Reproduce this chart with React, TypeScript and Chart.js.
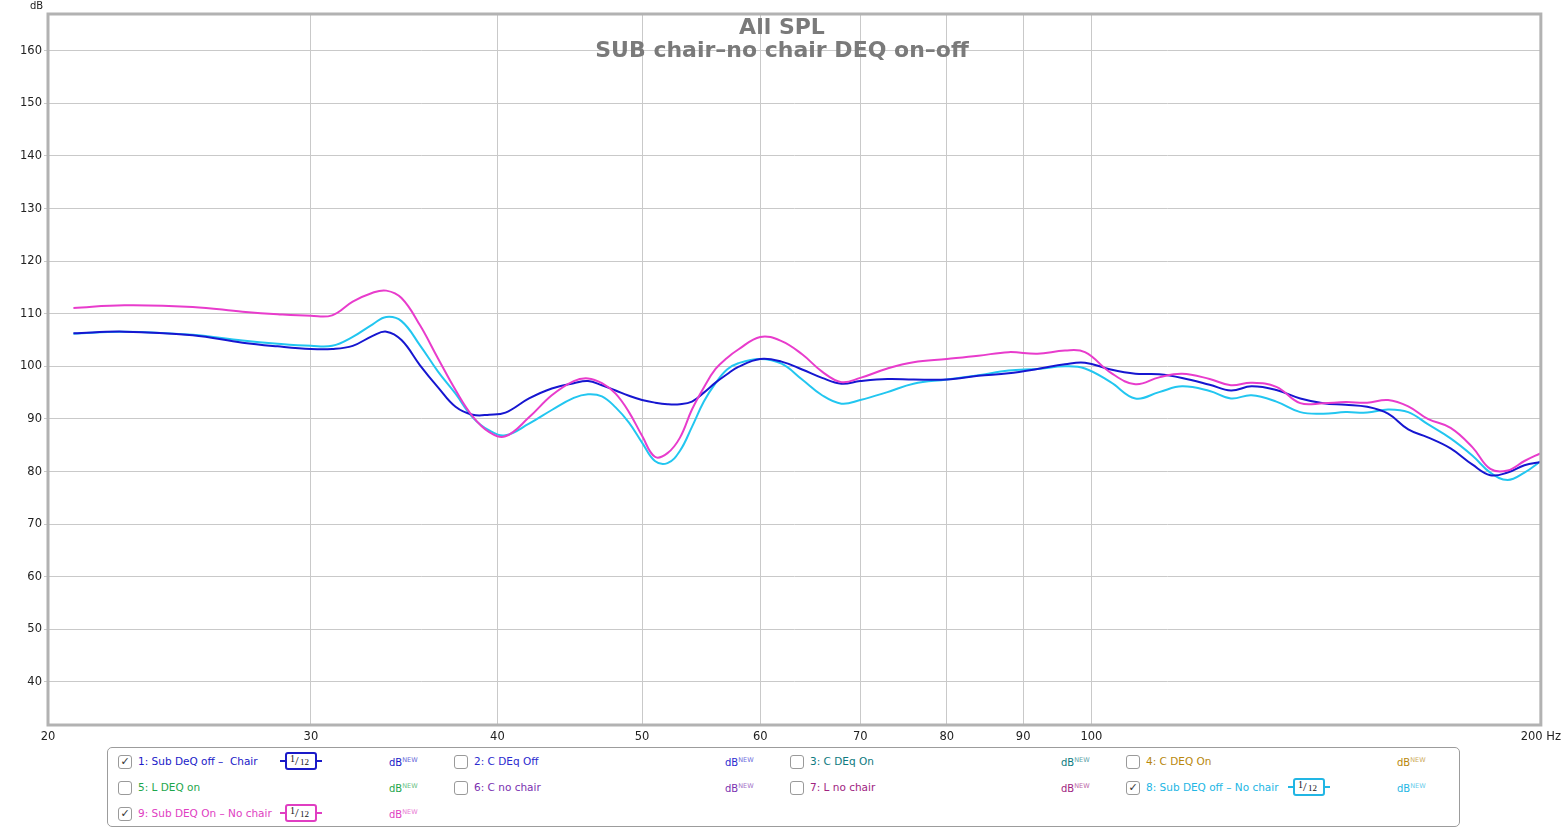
import React, { useEffect, useRef } from "react";
import { Chart, registerables } from "chart.js";

Chart.register(...registerables);

// ---------- data ----------
const freqs = [
  20.8, 22.5, 25, 27, 28.5, 30, 31, 32, 33, 33.7, 34.5, 35.5, 36.5, 37.5, 38.5, 39.5, 40.5, 42, 43.5, 45,
  46, 47, 48, 49, 50, 51, 52, 53, 54, 55, 56, 57, 58, 60, 62, 64, 66, 68, 70, 73,
  76, 80, 84, 88, 92, 96, 99, 103, 107, 111, 115, 120, 124, 128, 133, 138, 143, 148, 153, 158,
  163, 168, 174, 180, 185, 190, 195, 200,
];

const subOffChair = [
  106.3, 106.6, 105.9, 104.5, 103.8, 103.3, 103.3, 103.9, 105.8, 106.6, 105.0, 100.2, 96.0, 92.3, 90.8, 90.8, 91.2, 93.9, 95.8, 96.8,
  97.2, 96.4, 95.4, 94.4, 93.6, 93.1, 92.8, 92.8, 93.3, 95.0, 96.9, 98.5, 99.9, 101.4, 100.9, 99.4, 97.8, 96.7, 97.2, 97.6,
  97.5, 97.5, 98.2, 98.7, 99.5, 100.4, 100.7, 99.4, 98.6, 98.5, 97.8, 96.5, 95.4, 96.2, 95.5, 93.9, 93.0, 92.7, 92.3, 91.0,
  88.0, 86.5, 84.4, 81.3, 79.3, 79.8, 81.2, 81.8,
];

const subOffNoChair = [
  106.2, 106.6, 106.0, 104.9, 104.3, 103.9, 103.9, 105.6, 108.0, 109.4, 108.6, 104.0, 99.0, 94.8, 90.3, 87.8, 86.9, 89.1, 91.7, 94.0,
  94.7, 94.3, 92.2, 89.3, 85.5, 82.0, 81.6, 83.9, 88.5, 93.3, 96.8, 99.4, 100.6, 101.4, 100.5, 97.5, 94.5, 92.9, 93.6, 95.1,
  96.7, 97.5, 98.3, 99.2, 99.5, 100.0, 99.6, 97.0, 93.9, 95.1, 96.2, 95.3, 93.9, 94.5, 93.3, 91.3, 91.0, 91.3, 91.2, 91.8,
  91.3, 89.0, 86.3, 83.0, 79.8, 78.4, 79.8, 82.0,
];

const subOnNoChair = [
  111.1, 111.6, 111.3, 110.4, 109.9, 109.6, 109.7, 112.3, 114.0, 114.4, 113.0, 107.8, 101.5, 95.5, 90.5, 87.5, 86.7, 90.3, 94.5, 97.2,
  97.7, 96.8, 94.8, 91.3, 86.8, 82.8, 83.5, 86.4, 91.8, 96.0, 99.5, 101.6, 103.2, 105.6, 104.8, 102.3, 99.0, 97.0, 97.8, 99.6,
  100.8, 101.4, 102.0, 102.7, 102.4, 103.0, 102.7, 98.8, 96.6, 97.9, 98.6, 97.6, 96.4, 96.9, 96.1, 93.0, 93.0, 93.2, 93.1, 93.6,
  92.4, 90.0, 88.3, 84.6, 80.5, 80.2, 82.0, 83.5,
];

const xTicks = [20, 30, 40, 50, 60, 70, 80, 90, 100, 200];
const yTicks = [40, 50, 60, 70, 80, 90, 100, 110, 120, 130, 140, 150, 160];

const titleLines = ["All SPL", "SUB chair\u2013no chair DEQ on\u2013off"];

const legendLabels = [
  "1: Sub DeQ off \u2013  Chair",
  "2: C DEq Off",
  "3: C DEq On",
  "4: C DEQ On",
  "5: L DEQ on",
  "6: C no chair",
  "7: L no chair",
  "8: Sub DEQ off \u2013 No chair",
  "9: Sub DEQ On \u2013 No chair",
];
const legendColors = [
  "#1a1ac8", "#2b2bcf", "#0d7a80", "#b8870c", "#1ea64c", "#7a30b0", "#a0237f", "#22b6e4", "#e03ec2",
];
const legendChecked = [true, false, false, false, false, false, false, true, true];

const lineBlue = "#1616d0";
const lineCyan = "#22c6f0";
const linePink = "#e83ccc";

function toPoints(vals: number[]) {
  return freqs.map((f, i) => ({ x: f, y: vals[i] }));
}

function Badge({ color }: { color: string }) {
  return (
    <div style={{ position: "absolute", left: 162, top: -1, width: 42, height: 18 }}>
      <div style={{ position: "absolute", left: 0, top: 8, width: 6, height: 2, background: color }} />
      <div style={{ position: "absolute", right: 0, top: 8, width: 6, height: 2, background: color }} />
      <div
        style={{
          position: "absolute",
          left: 5,
          top: 0,
          width: 28,
          height: 14,
          border: `2px solid ${color}`,
          borderRadius: 3,
          background: "#fff",
          fontFamily: "'Liberation Serif', 'DejaVu Serif', serif",
          color: "#111",
        }}
      >
        <span style={{ position: "absolute", left: 3, top: -1, fontSize: 10 }}>1</span>
        <span style={{ position: "absolute", left: 8, top: -1, fontSize: 13 }}>/</span>
        <span style={{ position: "absolute", left: 13, top: 3, fontSize: 9 }}>12</span>
      </div>
    </div>
  );
}

function LegendItem({ idx }: { idx: number }) {
  const col = idx % 4;
  const row = Math.floor(idx / 4);
  const left = 118 + col * 336;
  const cy = [761, 787, 813][row];
  const color = legendColors[idx];
  return (
    <div style={{ position: "absolute", left, top: cy - 8, height: 16, width: 320 }}>
      <div
        style={{
          position: "absolute",
          left: 0,
          top: 1.5,
          width: 12,
          height: 12,
          border: "1px solid #9a9a9a",
          borderRadius: 3,
          background: "#fff",
          fontFamily: "'DejaVu Sans', sans-serif",
          fontSize: 11,
          lineHeight: "12px",
          textAlign: "center",
          color: "#333",
        }}
      >
        {legendChecked[idx] ? "\u2713" : ""}
      </div>
      <div
        style={{
          position: "absolute",
          left: 20,
          top: 0,
          lineHeight: "16px",
          fontSize: 10.5,
          fontFamily: "'DejaVu Sans', sans-serif",
          color,
          whiteSpace: "pre",
        }}
      >
        {legendLabels[idx]}
      </div>
      {legendChecked[idx] ? <Badge color={color} /> : null}
      <div
        style={{
          position: "absolute",
          left: 271,
          top: 0,
          lineHeight: "16px",
          fontFamily: "'DejaVu Sans', sans-serif",
          color,
          whiteSpace: "pre",
        }}
      >
        <span style={{ fontSize: 10 }}>dB</span>
        <span style={{ fontSize: 6.5, position: "relative", top: -4, opacity: 0.7 }}>NEW</span>
      </div>
    </div>
  );
}

export default function App() {
  const canvasRef = useRef<HTMLCanvasElement>(null);

  useEffect(() => {
    const canvas = canvasRef.current;
    if (!canvas) return;

    const framePlugin = {
      id: "frame",
      afterDraw(chart: any) {
        const { ctx, chartArea: a } = chart;
        ctx.save();
        ctx.strokeStyle = "#b2b2b2";
        ctx.lineWidth = 3;
        ctx.strokeRect(a.left, a.top, a.right - a.left, a.bottom - a.top);
        ctx.restore();
      },
    };

    const lineStyle = {
      borderWidth: 2,
      pointRadius: 0,
      tension: 0.4,
      fill: false,
    };

    const chart = new Chart(canvas, {
      type: "line",
      data: {
        datasets: [
          { label: legendLabels[8], data: toPoints(subOnNoChair), borderColor: linePink, ...lineStyle },
          { label: legendLabels[0], data: toPoints(subOffChair), borderColor: lineBlue, ...lineStyle },
          { label: legendLabels[7], data: toPoints(subOffNoChair), borderColor: lineCyan, ...lineStyle },
        ],
      },
      options: {
        responsive: false,
        animation: false,
        events: [],
        layout: { padding: { left: 0, top: 14, right: 25, bottom: 0 } },
        plugins: {
          legend: { display: false },
          title: { display: false },
          tooltip: { enabled: false },
        },
        scales: {
          x: {
            type: "logarithmic",
            min: 20,
            max: 200,
            afterBuildTicks: (s: any) => {
              s.ticks = xTicks.map((v) => ({ value: v }));
            },
            afterFit: (s: any) => {
              s.height = 104;
            },
            ticks: {
              autoSkip: false,
              maxRotation: 0,
              minRotation: 0,
              padding: 5,
              color: "#222",
              font: { family: "'DejaVu Sans', sans-serif", size: 11.5 },
              callback: (v: any) => (Number(v) === 200 ? "200 Hz" : String(v)),
            },
            grid: { color: "#c9c9c9", lineWidth: 1, drawTicks: false },
            border: { display: false },
          },
          y: {
            type: "linear",
            min: 31.8,
            max: 167,
            afterBuildTicks: (s: any) => {
              s.ticks = yTicks.map((v) => ({ value: v }));
            },
            afterFit: (s: any) => {
              s.width = 48;
            },
            ticks: {
              padding: 2,
              color: "#222",
              font: { family: "'DejaVu Sans', sans-serif", size: 11.5 },
            },
            grid: { color: "#c9c9c9", lineWidth: 1, tickLength: 4 },
            border: { display: false },
          },
        },
      },
      plugins: [framePlugin],
    } as any);

    return () => chart.destroy();
  }, []);

  return (
    <div
      style={{
        position: "absolute",
        left: 0,
        top: 0,
        width: 1566,
        height: 829,
        background: "#fff",
        overflow: "hidden",
      }}
    >
      <canvas ref={canvasRef} width={1566} height={829} style={{ width: 1566, height: 829, display: "block" }} />
      <div
        style={{
          position: "absolute",
          left: 30,
          top: 0,
          fontFamily: "'DejaVu Sans', sans-serif",
          fontSize: 10,
          lineHeight: "12px",
          color: "#222",
        }}
      >
        dB
      </div>
      {titleLines.map((t, i) => (
        <div
          key={i}
          style={{
            position: "absolute",
            left: 782,
            top: i === 0 ? 15 : 38,
            transform: "translateX(-50%)",
            whiteSpace: "nowrap",
            fontFamily: "'DejaVu Sans', sans-serif",
            fontWeight: "bold",
            fontSize: 22,
            lineHeight: "24px",
            color: "#7a7a7a",
          }}
        >
          {t}
        </div>
      ))}
      <div
        style={{
          position: "absolute",
          left: 107,
          top: 747,
          width: 1351,
          height: 78,
          border: "1px solid #9c9c9c",
          borderRadius: 5,
          background: "#fff",
        }}
      />
      {legendLabels.map((_, i) => (
        <LegendItem key={i} idx={i} />
      ))}
    </div>
  );
}
